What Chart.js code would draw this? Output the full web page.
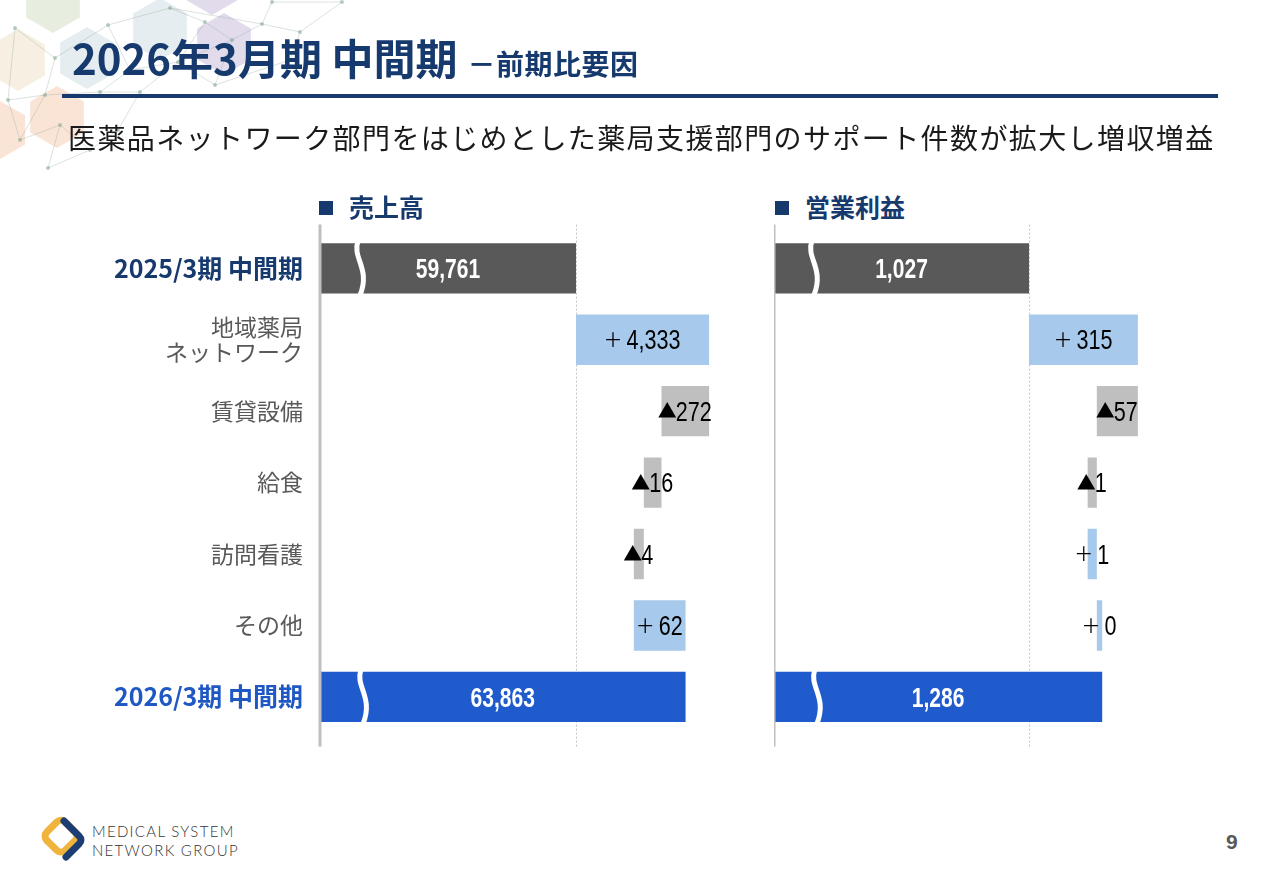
<!DOCTYPE html>
<html lang="ja">
<head>
<meta charset="utf-8">
<title>2026年3月期 中間期 前期比要因</title>
<script src="https://cdn.jsdelivr.net/npm/chart.js@4.4.1/dist/chart.umd.min.js"></script>
<style>
  html, body { margin: 0; padding: 0; background: #fff; }
  body { width: 1280px; height: 886px; position: relative; overflow: hidden;
         font-family: "Noto Sans CJK JP", "Noto Sans", sans-serif; }
  #deco { position: absolute; left: 0; top: 0; }
  .title { position: absolute; left: 72px; top: 36px; line-height: 1; color: #173a6e;
           font-weight: bold; font-size: 42px; white-space: nowrap; }
  .title small { font-size: 28px; margin-left: 10px; letter-spacing: 0.5px; }
  .rule { position: absolute; left: 62px; top: 94px; width: 1156px; height: 4px; background: #173a6e; }
  .lead { position: absolute; left: 68px; top: 123px; font-size: 28px; line-height: 1;
          letter-spacing: 1.4px; color: #1a1a1a; white-space: nowrap; }
  .head { position: absolute; top: 194px; font-size: 25px; line-height: 1; font-weight: bold;
          color: #173a6e; white-space: nowrap; }
  .head span { display: inline-block; width: 14px; height: 14px; background: #173a6e;
               margin-right: 16px; vertical-align: 2px; }
  #salesChart { position: absolute; left: 100px; top: 215px; }
  #profitChart { position: absolute; left: 774px; top: 215px; }
  .logo { position: absolute; left: 36px; top: 814px; }
  .logo-text { position: absolute; left: 92px; top: 822px; font-family: Lato, "Open Sans", sans-serif;
               font-weight: 300; font-size: 15px; line-height: 19px; letter-spacing: 1.3px; color: #333; }
  .page { position: absolute; left: 1226px; top: 830px; font-family: "Liberation Sans", Arial, sans-serif;
          font-weight: bold; font-size: 21px; color: #595959; }
</style>
</head>
<body>
<canvas id="deco" width="360" height="200"></canvas>
<div class="title">2026年3月期 中間期<small>－前期比要因</small></div>
<div class="rule"></div>
<div class="lead">医薬品ネットワーク部門をはじめとした薬局支援部門のサポート件数が拡大し増収増益</div>
<div class="head" style="left:319px"><span></span>売上高</div>
<div class="head" style="left:775px"><span></span>営業利益</div>
<canvas id="salesChart" width="620" height="540"></canvas>
<canvas id="profitChart" width="400" height="540"></canvas>
<svg class="logo" width="50" height="50" viewBox="0 0 50 50">
  <rect x="12" y="12" width="26" height="26" rx="6" transform="rotate(45 25 25) translate(-2 -2)"
        fill="none" stroke="#f0b43c" stroke-width="7"/>
  <path d="M27 6 L42 21 Q46 25 42 29 L29 42" transform="translate(1 1)" fill="none" stroke="#1d3e72" stroke-width="7" stroke-linecap="round"/>
</svg>
<div class="logo-text">MEDICAL SYSTEM<br>NETWORK GROUP</div>
<div class="page">9</div>

<script>
// categories (rows, top to bottom)
const categories = [
  ['2025/3期 中間期'],
  ['地域薬局', 'ネットワーク'],
  ['賃貸設備'],
  ['給食'],
  ['訪問看護'],
  ['その他'],
  ['2026/3期 中間期']
];

// 売上高 / 営業利益 (百万円): previous period, changes, current period
const salesValues = [59761, 4333, -272, -16, -4, 62, 63863];
const profitValues = [1027, 315, -57, -1, 1, 0, 1286];

// bar lengths as drawn on the slide (not to scale), base bar = 100
const salesDrawn = [100, 52, -18.6, -6.9, -3.9, 20.2];
const profitDrawn = [100, 42.7, -16.1, -3.6, 3.6, 2.1];

const NAVY = '#173a6e';
const BASE_GRAY = '#595959';
const TOTAL_BLUE = '#1f5bcc';
const UP_BLUE = '#a6c9ec';
const DOWN_GRAY = '#bfbfbf';
const NUM_FONT = '"Liberation Sans", Arial, sans-serif';
const JP_FONT = '"Noto Sans CJK JP", "Noto Sans", sans-serif';

// floating bars: first bar from the axis, each change from the running total,
// last bar from the axis to the running total
function buildBars(drawn) {
  const bars = [[0, drawn[0]]];
  let run = drawn[0];
  for (let i = 1; i < drawn.length; i++) {
    bars.push([run, run + drawn[i]]);
    run += drawn[i];
  }
  bars.push([0, run]);
  return bars;
}

function barColors(values) {
  const last = values.length - 1;
  return values.map((v, i) => i === 0 ? BASE_GRAY : i === last ? TOTAL_BLUE : (v < 0 ? DOWN_GRAY : UP_BLUE));
}

function drawBreak(ctx, cx, top, bottom) {
  const h = bottom - top;
  ctx.save();
  ctx.strokeStyle = '#ffffff';
  ctx.lineWidth = 5;
  ctx.beginPath();
  ctx.moveTo(cx - 3, top - 2);
  ctx.bezierCurveTo(cx - 9, top + h * 0.3, cx + 10, top + h * 0.5, cx - 1, bottom + 2);
  ctx.stroke();
  ctx.restore();
}

// label = optional sign (＋ / ▲, full width) + squeezed numerals, centred on cx
function drawValue(ctx, cx, cy, value, isEnd) {
  const digits = Math.abs(value).toLocaleString('en-US');
  const sign = isEnd ? '' : (value < 0 ? '▲' : '＋');
  const squeeze = isEnd ? 0.78 : 0.8;
  ctx.save();
  ctx.fillStyle = isEnd ? '#ffffff' : '#000000';
  ctx.font = (isEnd ? 'bold ' : '') + '27px ' + NUM_FONT;
  const dw = ctx.measureText(digits).width * squeeze;
  ctx.font = '19px ' + JP_FONT;
  let sw = 0;
  if (sign) sw = ctx.measureText(sign).width + (value < 0 ? -2 : 3);
  const x0 = cx - (sw + dw) / 2;
  if (sign) {
    ctx.textAlign = 'left';
    ctx.textBaseline = 'middle';
    ctx.fillText(sign, x0 - 1, cy);
  }
  ctx.translate(x0 + sw, cy);
  ctx.scale(squeeze, 1);
  ctx.font = (isEnd ? 'bold ' : '') + '27px ' + NUM_FONT;
  ctx.textAlign = 'left';
  ctx.textBaseline = 'alphabetic';
  ctx.fillText(digits, 0, 9.7);
  ctx.restore();
}

function makeWaterfall(id, values, drawn, pxPerUnit, yAxisWidth) {
  const canvas = document.getElementById(id);
  const last = values.length - 1;
  const areaWidth = canvas.width - yAxisWidth;

  const decor = {
    id: 'decor_' + id,
    beforeDatasetsDraw(chart) {
      const { ctx, chartArea, scales } = chart;
      const gx = Math.round(scales.x.getPixelForValue(drawn[0])) + 0.5;
      ctx.save();
      ctx.strokeStyle = '#c4c4c4';
      ctx.lineWidth = 1;
      ctx.setLineDash([2, 2]);
      ctx.beginPath();
      ctx.moveTo(gx, chartArea.top - 8);
      ctx.lineTo(gx, chartArea.bottom + 14);
      ctx.stroke();
      ctx.restore();
    },
    afterDatasetsDraw(chart) {
      const { ctx, chartArea, scales } = chart;
      const meta = chart.getDatasetMeta(0);
      meta.data.forEach((bar, i) => {
        const top = bar.y - bar.height / 2;
        const bottom = bar.y + bar.height / 2;
        const left = Math.min(bar.x, bar.base);
        const right = Math.max(bar.x, bar.base);
        const end = i === 0 || i === last;
        if (end) {
          drawBreak(ctx, scales.x.getPixelForValue(16) + (i === last ? 3 : 0), top, bottom);
        }
        drawValue(ctx, (left + right) / 2, bar.y, values[i], end);
      });
      // value axis line
      const ax = scales.x.getPixelForValue(0);
      ctx.save();
      ctx.strokeStyle = '#bfbfbf';
      ctx.lineWidth = 3;
      ctx.beginPath();
      ctx.moveTo(ax, chartArea.top - 8);
      ctx.lineTo(ax, chartArea.bottom + 14);
      ctx.stroke();
      ctx.restore();
    }
  };

  return new Chart(canvas.getContext('2d'), {
    type: 'bar',
    data: {
      labels: categories,
      datasets: [{
        data: buildBars(drawn),
        backgroundColor: barColors(values),
        borderWidth: 0,
        borderSkipped: false,
        barPercentage: 0.705,
        categoryPercentage: 1
      }]
    },
    options: {
      indexAxis: 'y',
      responsive: false,
      animation: false,
      layout: { padding: { top: 17.6, bottom: 22.4, left: 0, right: 0 } },
      plugins: { legend: { display: false }, tooltip: { enabled: false } },
      scales: {
        x: { display: false, min: 0, max: areaWidth / pxPerUnit },
        y: {
          display: yAxisWidth > 0,
          grid: { display: false, drawTicks: false },
          border: { display: false },
          afterFit: s => { s.width = yAxisWidth; s.paddingTop = 0; s.paddingBottom = 0; },
          ticks: {
            padding: 17,
            color: c => c.index === 0 ? NAVY : c.index === last ? '#1f58c4' : '#595959',
            font: c => ({
              family: JP_FONT,
              size: (c.index === 0 || c.index === last) ? 25 : 23,
              weight: (c.index === 0 || c.index === last) ? 'bold' : 'normal',
              lineHeight: 1.05
            })
          }
        }
      }
    },
    plugins: [decor]
  });
}

makeWaterfall('salesChart', salesValues, salesDrawn, 2.56, 220);
makeWaterfall('profitChart', profitValues, profitDrawn, 2.55, 0);

// faint hexagon / network decoration, top-left corner
const deco = document.getElementById('deco').getContext('2d');
const hexes = [
  [53, 2, 31, '#e8eedf'], [18, 60, 31, '#f6efe2'], [87, 58, 31, '#e6edf0'],
  [160, 29, 31, '#e6edf0'], [224, 44, 31, '#e1dbec'], [212, -14, 29, '#e1dbec'],
  [57, 117, 31, '#fae4d6'], [0, 130, 29, '#fae4d6']
];
hexes.forEach(([cx, cy, r, col]) => {
  deco.beginPath();
  for (let k = 0; k < 6; k++) {
    const a = (-90 + 60 * k) * Math.PI / 180;
    const px = cx + r * Math.cos(a), py = cy + r * Math.sin(a);
    if (k === 0) deco.moveTo(px, py); else deco.lineTo(px, py);
  }
  deco.closePath();
  deco.fillStyle = col;
  deco.fill();
});
const nodes = [
  [15, 28], [55, 58], [108, 25], [130, 70], [170, 8], [205, 22], [232, 40], [262, 24],
  [272, 2], [300, 32], [342, 2], [45, 95], [20, 140], [60, 125], [48, 168], [100, 92],
  [140, 92], [178, 62], [8, 100], [90, 150], [118, 130], [215, 85], [290, 60]
];
const links = [
  [0, 1], [1, 2], [2, 4], [4, 5], [5, 6], [6, 7], [7, 8], [7, 9], [9, 10], [8, 10],
  [1, 11], [11, 12], [12, 13], [13, 14], [11, 15], [15, 16], [16, 17], [17, 6], [3, 15],
  [2, 3], [3, 17], [18, 11], [18, 0], [13, 19], [19, 20], [20, 16], [17, 21], [21, 22],
  [22, 9], [5, 17], [14, 19], [12, 18], [6, 21], [4, 7]
];
deco.strokeStyle = 'rgba(140,165,150,0.4)';
deco.lineWidth = 0.8;
links.forEach(([a, b]) => {
  deco.beginPath();
  deco.moveTo(nodes[a][0], nodes[a][1]);
  deco.lineTo(nodes[b][0], nodes[b][1]);
  deco.stroke();
});
deco.fillStyle = 'rgba(130,165,145,0.55)';
nodes.forEach(([x, y]) => {
  deco.beginPath();
  deco.arc(x, y, 2, 0, Math.PI * 2);
  deco.fill();
});
</script>
</body>
</html>
